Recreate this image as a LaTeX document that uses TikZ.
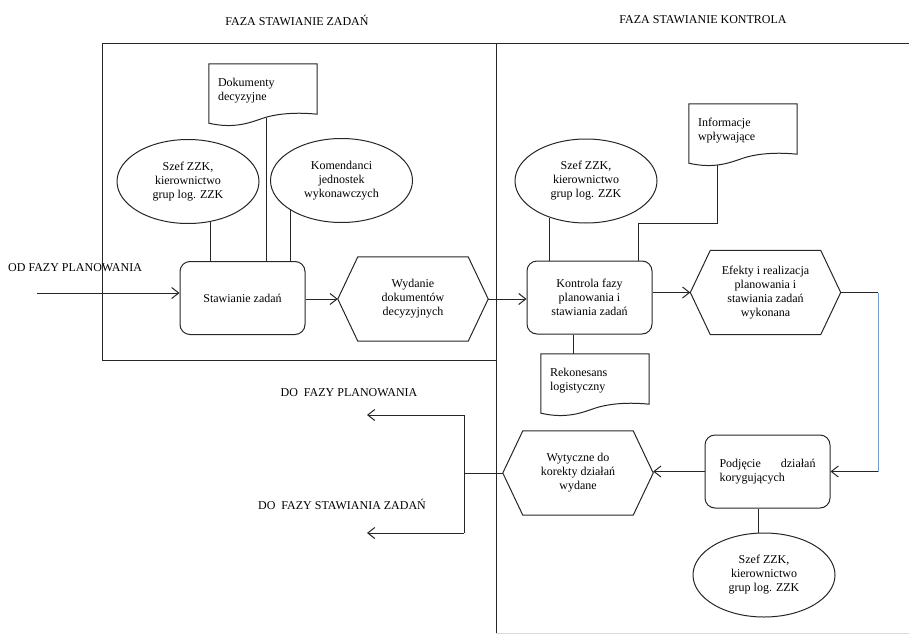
\documentclass[tikz,border=0pt]{standalone}
\usepackage{fontspec}
\setmainfont{Liberation Serif}
\usetikzlibrary{shapes.geometric,arrows.meta,calc}
\definecolor{linkblue}{RGB}{115,160,215}

% document symbol: straight top and sides, wavy bottom edge
\newcommand\docoutline[1]{%
  \draw[conn] ($(#1.south west)+(0,5)$) -- (#1.north west) -- (#1.north east)
    -- ($(#1.south east)+(0,-4)$)
    .. controls ($(#1.south)+(35,-6)$) and ($(#1.south)+(15,-5)$) .. (#1.south)
    .. controls ($(#1.south)+(-12,4)$) and ($(#1.south)+(-28,11)$) .. ($(#1.south west)+(0,5)$)
    -- cycle;}
% elongated hexagon (flowchart "preparation" symbol)
\newcommand\hexoutline[1]{%
  \draw[conn] (#1.west) -- ($(#1.north west)+(20,0)$) -- ($(#1.north east)+(-20,0)$)
    -- (#1.east) -- ($(#1.south east)+(-20,0)$) -- ($(#1.south west)+(20,0)$) -- cycle;}

\begin{document}
\begin{tikzpicture}[x=1pt,y=-1pt,
  every node/.style={font=\rmfamily\fontsize{12}{14}\selectfont, text=black},
  conn/.style={draw=black!85, line width=1pt},
  arr/.style={conn, -{Straight Barb[length=7pt,width=11pt,line width=1pt]}},
  roundbox/.style={conn, rounded corners=10pt, minimum width=125pt, minimum height=73pt,
                   align=center, inner sep=2pt},
  oval/.style={conn, ellipse, minimum width=142pt, minimum height=84pt, inner sep=0pt, align=center},
  docbox/.style={minimum width=108pt, minimum height=54pt, text width=90pt,
                 inner xsep=9pt, inner ysep=0pt, align=left},
  hexbox/.style={minimum width=150pt, minimum height=84pt, align=center, inner sep=0pt},
  panel/.style={draw=black!85, line width=1pt},
  bluelink/.style={draw=linkblue, line width=1pt}
]
\useasboundingbox (0,0) rectangle (909,634);

% phase panels
\draw[panel] (102,44) rectangle (496,360);
\draw[panel] (909,44) -- (496,44) -- (496,634);
\draw[draw=black!15, line width=0.8pt] (496,633) -- (909,633);
\node (t1) at (297,20) {FAZA STAWIANIE ZADAŃ};
\node (t2) at (703,20) {FAZA STAWIANIE KONTROLA};

% task-setting phase
\node[docbox] (doc1) at (263,91) {Dokumenty\\decyzyjne};
\docoutline{doc1}
\node[oval] (e1) at (188,181.5) {Szef ZZK,\\kierownictwo\\grup log. ZZK};
\node[oval] (e2) at (341.5,180.5) {Komendanci\\jednostek\\wykonawczych};
\node[roundbox] (staw) at (242.5,298) {Stawianie zadań};
\node[hexbox] (hex1) at (413,299) {Wydanie\\dokumentów\\decyzyjnych};
\hexoutline{hex1}

\node[anchor=west, inner sep=0pt] (od) at (8,268) {OD FAZY PLANOWANIA};
\coordinate (odstart) at (37,293);
\draw[arr] (odstart) -- (odstart -| staw.west);

\draw[conn] (e1.-61) -- (e1.-61 |- staw.north);
\coordinate (d1) at ($(doc1.south)+(3,0)$);
\draw[conn] (d1) -- (d1 |- staw.north);
\draw[conn] (e2.210) -- (e2.210 |- staw.north);
\draw[arr] (hex1.west -| staw.east) -- (hex1.west);

% control phase
\node[oval] (e3) at (586,181) {Szef ZZK,\\kierownictwo\\grup log. ZZK};
\node[docbox] (info) at (743,131) {Informacje\\wpływające};
\docoutline{info}
\node[roundbox] (kon) at (589.5,297.5) {Kontrola fazy\\planowania i\\stawiania zadań};
\node[hexbox] (hex2) at (765.5,292.5) {Efekty i realizacja\\planowania i\\stawiania zadań\\wykonana};
\hexoutline{hex2}
\node[docbox] (rek) at (595,381) {Rekonesans\\logistyczny};
\docoutline{rek}
\node[roundbox, text width=96pt, align=left] (pod) at (767.5,471.5) {Podjęcie \hfill działań\\korygujących};
\node[hexbox] (hex3) at (578,473) {Wytyczne do\\korekty działań\\wydane};
\hexoutline{hex3}
\node[oval] (e4) at (764,575) {Szef ZZK,\\kierownictwo\\grup log. ZZK};

\draw[arr] (hex1.east) -- (hex1.east -| kon.west);
\draw[conn] (e3.225) -- (e3.225 |- kon.north);
\coordinate (i1) at ($(info.south)+(-26,6.5)$);
\coordinate (k1) at ($(kon.north)+(48.5,-37)$);
\draw[conn] (i1) |- (k1) -- (k1 |- kon.north);
\coordinate (k2) at ($(kon.south)+(-16.5,0)$);
\draw[conn] (k2) -- (k2 |- rek.north);
\draw[arr] (hex2.west -| kon.east) -- (hex2.west);

% feedback loop
\coordinate (rc) at (878,0);
\draw[conn] (hex2.east) -- (hex2.east -| rc);
\draw[bluelink] (hex2.east -| rc) -- (rc |- pod.east);
\draw[arr] (rc |- pod.east) -- (pod.east);
\draw[arr] (pod.west) -- (pod.west -| hex3.east);
\coordinate (p1) at ($(pod.south)+(-9.5,0)$);
\draw[conn] (p1) -- (p1 |- e4.north);

% return paths
\coordinate (sp) at (464,473);
\coordinate (toplan) at (367,415);
\coordinate (tozad) at (367,533);
\draw[conn] (hex3.west) -- (sp);
\draw[conn] (sp |- toplan) -- (sp |- tozad);
\draw[arr] (sp |- toplan) -- (toplan);
\draw[arr] (sp |- tozad) -- (tozad);
\node (l1) at (349,393) {DO\ \ FAZY PLANOWANIA};
\node (l2) at (342,504) {DO\ \ FAZY STAWIANIA ZADAŃ};
\end{tikzpicture}
\end{document}
